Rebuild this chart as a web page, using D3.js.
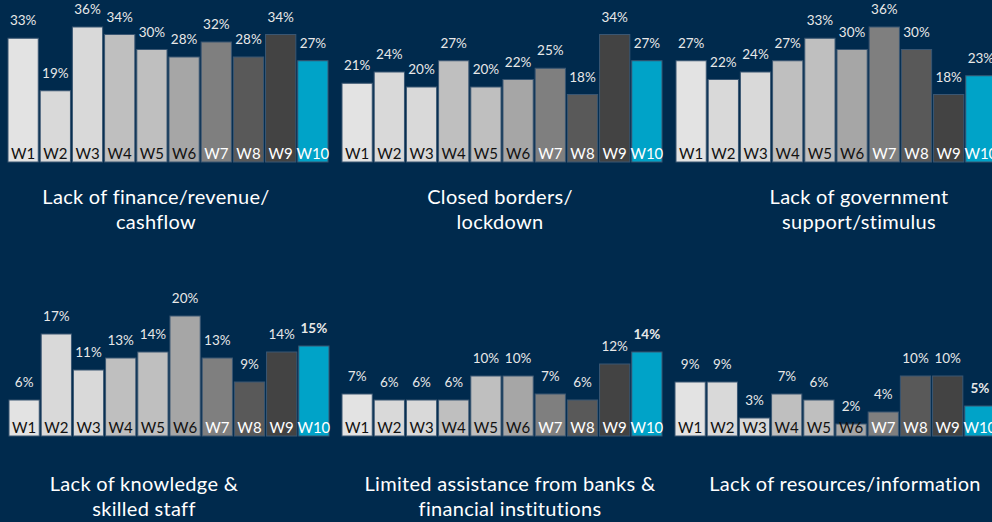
<!DOCTYPE html>
<html>
<head>
<meta charset="utf-8">
<script src="https://cdn.jsdelivr.net/npm/d3@7"></script>
<style>
  html, body { margin: 0; padding: 0; background: #002a4d; }
  svg { display: block; }
</style>
</head>
<body>
<svg id="chart" width="992" height="522"></svg>
<script>
// Survey waves shown in every panel
const waves = ["W1", "W2", "W3", "W4", "W5", "W6", "W7", "W8", "W9", "W10"];

// Share of respondents naming each challenge, per wave (%)
const financeCashflow   = [33, 19, 36, 34, 30, 28, 32, 28, 34, 27];
const closedBorders     = [21, 24, 20, 27, 20, 22, 25, 18, 34, 27];
const governmentSupport = [27, 22, 24, 27, 33, 30, 36, 30, 18, 23];
const knowledgeStaff    = [6, 17, 11, 13, 14, 20, 13, 9, 14, 15];
const bankAssistance    = [7, 6, 6, 6, 10, 10, 7, 6, 12, 14];
const resourcesInfo     = [9, 9, 3, 7, 6, 2, 4, 10, 10, 5];

// Panel titles (one array entry per line)
const titleFinance    = ["Lack of finance/revenue/", "cashflow"];
const titleBorders    = ["Closed borders/", "lockdown"];
const titleGovernment = ["Lack of government", "support/stimulus"];
const titleKnowledge  = ["Lack of knowledge &", "skilled staff"];
const titleBanks      = ["Limited assistance from banks &", "financial institutions"];
const titleResources  = ["Lack of resources/information"];

// Wave fill colours; the latest wave is highlighted
const waveColors = ["#e3e3e3", "#d9d9d9", "#d9d9d9", "#bfbfbf", "#bfbfbf",
                    "#a6a6a6", "#7f7f7f", "#595959", "#434343", "#00a3c8"];
const waveTextColors = ["#111", "#111", "#111", "#111", "#111", "#111",
                        "#fff", "#fff", "#fff", "#fff"];

// Layout of the six small multiples
const rows = [
  { base: 162, top: 12, max: 40, titleY: 204, boldLast: false },
  { base: 436, top: 286, max: 25, titleY: 491, boldLast: true }
];
const panels = [
  { values: financeCashflow,   title: titleFinance,    row: 0, x0: 8,   titleX: 156 },
  { values: closedBorders,     title: titleBorders,    row: 0, x0: 342, titleX: 500 },
  { values: governmentSupport, title: titleGovernment, row: 0, x0: 676, titleX: 859 },
  { values: knowledgeStaff,    title: titleKnowledge,  row: 1, x0: 9,   titleX: 144 },
  { values: bankAssistance,    title: titleBanks,      row: 1, x0: 342, titleX: 510 },
  { values: resourcesInfo,     title: titleResources,  row: 1, x0: 675, titleX: 845 }
];

const svg = d3.select("#chart");
svg.append("rect").attr("width", 992).attr("height", 522).attr("fill", "#002a4d");

panels.forEach(p => {
  const r = rows[p.row];
  const x = d3.scaleBand().domain(waves).range([p.x0, p.x0 + 320]).paddingInner(0.06).paddingOuter(0);
  const y = d3.scaleLinear().domain([0, r.max]).range([r.base, r.top]);
  const data = waves.map((w, i) => ({ wave: w, value: p.values[i], i }));

  const g = svg.append("g");

  g.selectAll("rect.bar").data(data).join("rect")
    .attr("class", "bar")
    .attr("x", d => x(d.wave))
    .attr("y", d => y(d.value))
    .attr("width", x.bandwidth())
    .attr("height", d => y(0) - y(d.value))
    .attr("fill", d => waveColors[d.i])
    .attr("stroke", "#3a5672")
    .attr("stroke-width", 1);

  g.selectAll("text.val").data(data).join("text")
    .attr("class", "val")
    .attr("x", d => x(d.wave) + x.bandwidth() / 2)
    .attr("y", d => y(d.value) - 13)
    .attr("text-anchor", "middle")
    .attr("font-family", "Lato, sans-serif")
    .attr("font-size", 13.5)
    .attr("font-weight", d => (r.boldLast && d.i === waves.length - 1) ? 700 : 400)
    .attr("fill", "#e8e8e8")
    .text(d => d.value + "%");

  g.selectAll("text.wave").data(data).join("text")
    .attr("class", "wave")
    .attr("x", d => x(d.wave) + x.bandwidth() / 2)
    .attr("y", r.base - 3)
    .attr("text-anchor", "middle")
    .attr("font-family", "Lato, sans-serif")
    .attr("font-size", 15)
    .attr("fill", d => waveTextColors[d.i])
    .text(d => d.wave);

  const t = g.append("text")
    .attr("x", p.titleX)
    .attr("y", r.titleY)
    .attr("text-anchor", "middle")
    .attr("font-family", "Lato, sans-serif")
    .attr("font-size", 20)
    .attr("letter-spacing", 0.3)
    .attr("fill", "#ffffff");
  p.title.forEach((line, k) => {
    t.append("tspan").attr("x", p.titleX).attr("dy", k === 0 ? 0 : 25).text(line);
  });
});
</script>
</body>
</html>
